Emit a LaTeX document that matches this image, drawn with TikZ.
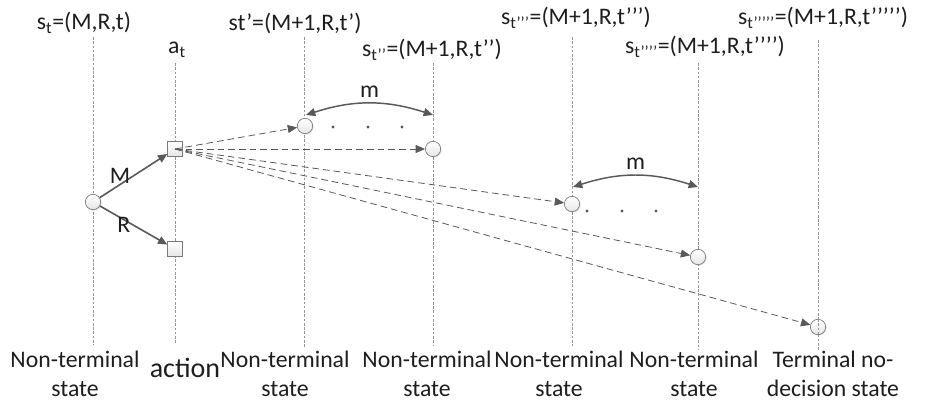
\documentclass[tikz,border=0pt]{standalone}
\usepackage{fontspec}
\setmainfont{Carlito}
\usepackage{tikz}
\usetikzlibrary{arrows.meta, shadows}
\definecolor{arrowgray}{RGB}{89,89,89}
\definecolor{guidegray}{RGB}{150,150,150}
\definecolor{textgray}{RGB}{30,30,30}
\newcommand{\lblfont}{\fontsize{17.8}{21.5}\selectfont}

\begin{document}
\begin{tikzpicture}[x=0.75pt, y=-0.75pt,
  state/.style={circle, draw=arrowgray!80, line width=0.5pt, inner sep=0pt, minimum size=11.5pt, top color=white, bottom color=black!10, drop shadow={opacity=0.2, shadow xshift=0.8pt, shadow yshift=-0.8pt}},
  act/.style={rectangle, draw=arrowgray!80, line width=0.5pt, inner sep=0pt, minimum size=11pt, top color=white, bottom color=black!10, drop shadow={opacity=0.2, shadow xshift=0.8pt, shadow yshift=-0.8pt}},
  lbl/.style={font=\lblfont, text=textgray, align=center, inner sep=1pt},
  guide/.style={draw=guidegray, dash pattern=on 2pt off 1.2pt, line width=0.5pt},
  arr/.style={-{Triangle[length=7pt, width=6pt]}, line width=1.2pt, color=arrowgray},
  darr/.style={-{Triangle[length=7pt, width=6pt]}, dash pattern=on 5pt off 3pt, line width=0.6pt, color=arrowgray},
  marr/.style={{Triangle[length=7pt, width=6pt]}-{Triangle[length=7pt, width=6pt]}, line width=1.1pt, color=arrowgray}]
  \useasboundingbox (0,0) rectangle (926,403);

  % guides
  \draw[guide] (93,37) -- (93,345);
  \draw[guide] (175,63) -- (175,343);
  \draw[guide] (304,37) -- (304,348);
  \draw[guide] (433,63) -- (433,345);
  \draw[guide] (572,37) -- (572,346);
  \draw[guide] (698,63) -- (698,350);
  \draw[guide] (818,40) -- (818,350);

  % top labels
  \node[lbl] (lst) at (84,23) {s\textsubscript{t}=(M,R,t)};
  \node[lbl] (lat) at (177,50) {a\textsubscript{t}};
  \node[lbl] (ls1) at (295,23) {st’=(M+1,R,t’)};
  \node[lbl] (ls2) at (432,50) {s\textsubscript{t’’}=(M+1,R,t’’)};
  \node[lbl] (ls3) at (576,18) {s\textsubscript{t’’’}=(M+1,R,t’’’)};
  \node[lbl] (ls4) at (705,47) {s\textsubscript{t’’’’}=(M+1,R,t’’’’)};
  \node[lbl] (ls5) at (823,18) {s\textsubscript{t’’’’’}=(M+1,R,t’’’’’)};

  % states and actions
  \node[state] (st) at (93,202) {};
  \node[act] (am) at (175,149) {};
  \node[act] (ar) at (175,249) {};
  \node[state] (s1) at (305,126) {};
  \node[state] (s2) at (433,149) {};
  \node[state] (s3) at (572,204) {};
  \node[state] (s4) at (698,257) {};
  \node[state] (s5) at (818,327) {};
  \draw[guide] (s5.north) -- (s5.south);

  \draw[arr] (st) -- node[lbl, midway, left=1pt] {M} (am);
  \draw[arr] (st) -- node[lbl, midway, left=1pt] {R} (ar);
  \draw[darr] (am.center) -- (s1);
  \draw[darr] (am.center) -- (s2);
  \draw[darr] (am.center) -- (s3);
  \draw[darr] (am.center) -- (s4);
  \draw[darr] (am.center) -- (s5);

  % m spans
  \coordinate (m1a) at (306,115);
  \coordinate (m1b) at (433,115);
  \coordinate (m2a) at (573,187);
  \coordinate (m2b) at (698,187);
  \draw[marr] (m1a) to[bend left=18] node[lbl, above=3pt] {m} (m1b);
  \draw[marr] (m2a) to[bend left=18] node[lbl, above=3pt] {m} (m2b);
  \fill[arrowgray] (333,127) circle (1.2pt) (368,127) circle (1.2pt) (402,127) circle (1.2pt);
  \fill[arrowgray] (587,211) circle (1.2pt) (622,211) circle (1.2pt) (656,211) circle (1.2pt);

  % bottom labels
  \node[lbl] (b0) at (75,374) {Non-terminal\\state};
  \node[lbl, font=\fontsize{21}{25}\selectfont] (b1) at (185,368) {action};
  \node[lbl] (b2) at (285,374) {Non-terminal\\state};
  \node[lbl] (b3) at (427,374) {Non-terminal\\state};
  \node[lbl] (b4) at (559,374) {Non-terminal\\state};
  \node[lbl] (b5) at (694,374) {Non-terminal\\state};
  \node[lbl] (b6) at (833,374) {Terminal no-\\decision state};
\end{tikzpicture}
\end{document}
